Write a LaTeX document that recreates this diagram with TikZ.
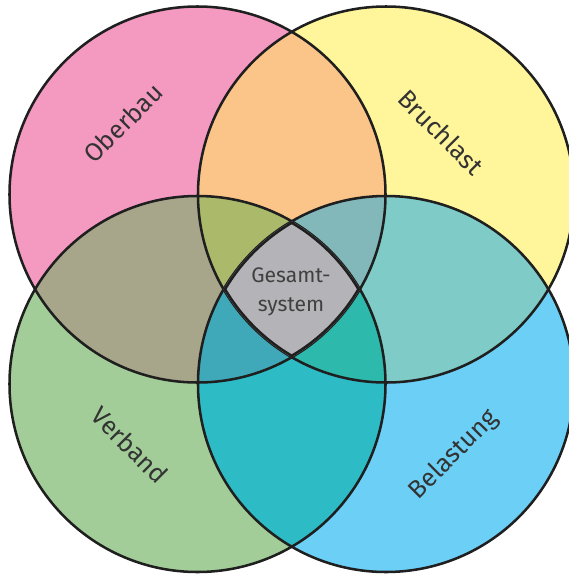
\documentclass[tikz,border=0pt]{standalone}
\usepackage{fontspec}
\setmainfont{Fira Sans}
\definecolor{obercol}{HTML}{F49AC1}
\definecolor{bruchcol}{HTML}{FFF59A}
\definecolor{verbcol}{HTML}{A3CD98}
\definecolor{belcol}{HTML}{6CCFF6}
\definecolor{obbrcol}{HTML}{FBC58A}
\definecolor{obvecol}{HTML}{A7A68A}
\definecolor{brbecol}{HTML}{7ECBC7}
\definecolor{vebecol}{HTML}{2DBBC5}
\definecolor{obbrvecol}{HTML}{AAB96A}
\definecolor{obbrbecol}{HTML}{82B8BA}
\definecolor{obvebecol}{HTML}{40A9B9}
\definecolor{brvebecol}{HTML}{2DB9AC}
\definecolor{gesamtcol}{HTML}{B4B4B8}
\begin{document}
\begin{tikzpicture}[x=0.025cm,y=-0.025cm,
	  ring/.style={draw=black!88, line width=1.8pt},
	  corering/.style={draw=black!88, line width=3.6pt},
	  label/.style={text=black!80, font=\fontsize{18}{21}\selectfont},
	  corelabel/.style={text=black!75, align=center, font=\fontsize{15}{21}\selectfont}]
	  \useasboundingbox (0,0) rectangle (569,574);
	  \def\ringrad{188}
	  \coordinate (ober) at (197.5,194.5);
	  \coordinate (bruch) at (386,194.5);
	  \coordinate (verb) at (197.5,384);
	  \coordinate (bel) at (386,384);

	  \fill [obercol] (ober) circle (\ringrad);
	  \fill [bruchcol] (bruch) circle (\ringrad);
	  \fill [verbcol] (verb) circle (\ringrad);
	  \fill [belcol] (bel) circle (\ringrad);

	  \begin{scope}
	    \clip (ober) circle (\ringrad);
	    \fill [obbrcol] (bruch) circle (\ringrad);
	    \fill [obvecol] (verb) circle (\ringrad);
	  \end{scope}
	  \begin{scope}
	    \clip (bel) circle (\ringrad);
	    \fill [brbecol] (bruch) circle (\ringrad);
	    \fill [vebecol] (verb) circle (\ringrad);
	  \end{scope}

	  \begin{scope}
	    \clip (ober) circle (\ringrad);
	    \clip (bruch) circle (\ringrad);
	    \fill [obbrvecol] (verb) circle (\ringrad);
	    \fill [obbrbecol] (bel) circle (\ringrad);
	  \end{scope}
	  \begin{scope}
	    \clip (verb) circle (\ringrad);
	    \clip (bel) circle (\ringrad);
	    \fill [obvebecol] (ober) circle (\ringrad);
	    \fill [brvebecol] (bruch) circle (\ringrad);
	  \end{scope}

	  \draw [ring] (ober) circle (\ringrad);
	  \draw [ring] (bruch) circle (\ringrad);
	  \draw [ring] (verb) circle (\ringrad);
	  \draw [ring] (bel) circle (\ringrad);

	  \begin{scope}
	    \clip (ober) circle (\ringrad);
	    \clip (bruch) circle (\ringrad);
	    \clip (verb) circle (\ringrad);
	    \clip (bel) circle (\ringrad);
	    \fill [gesamtcol] (0,0) rectangle (569,574);
	    \draw [corering] (ober) circle (\ringrad);
	    \draw [corering] (bruch) circle (\ringrad);
	    \draw [corering] (verb) circle (\ringrad);
	    \draw [corering] (bel) circle (\ringrad);
	  \end{scope}

	  \node [label, rotate=45] (oberbau) at (123,123) {Oberbau};
	  \node [label, rotate=-45] (bruchlast) at (441,132) {Bruchlast};
	  \node [label, rotate=-45] (verband) at (130,445) {Verband};
	  \node [label, rotate=45] (belastung) at (454,455) {Belastung};
	  \node [corelabel] (gesamt) at (291,292) {Gesamt-\\system};
\end{tikzpicture}
\end{document}
